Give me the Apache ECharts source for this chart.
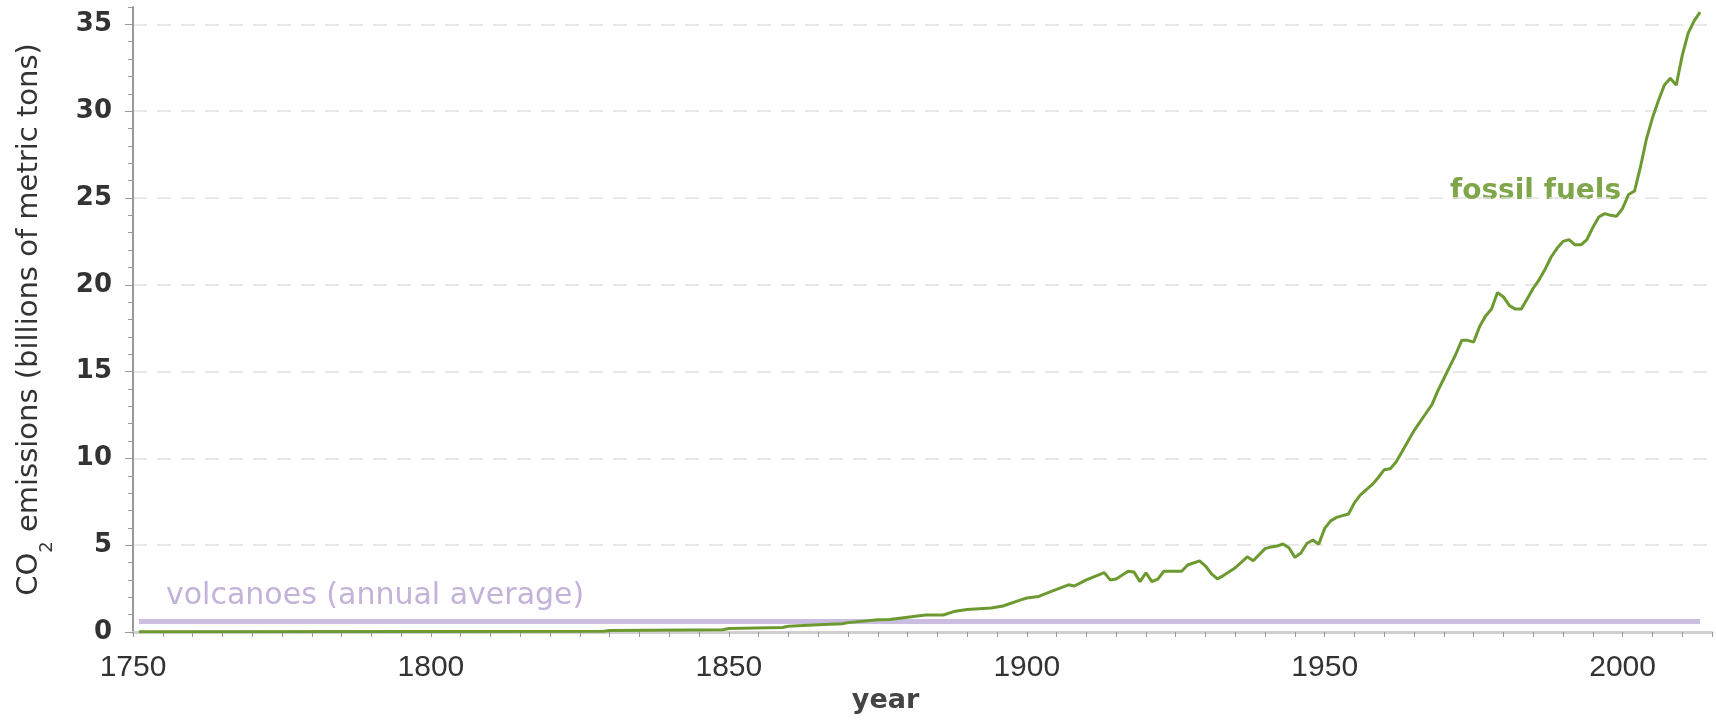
<!DOCTYPE html>
<html><head><meta charset="utf-8">
<script src="https://cdn.jsdelivr.net/npm/echarts@6/dist/echarts.min.js"></script>
<style>html,body{margin:0;padding:0;background:#fff}#c{width:1716px;height:721px}</style>
</head><body><div id="c"></div>
<script>
// fossil fuel CO2 emissions, billions of metric tons
const years = [1751,1800,1829,1830,1849,1850,1859,1860,1865,1869,1870,1875,1877,1880,1883,1886,1888,1890,1894,1896,1899,
1900,1902,1905,1907,1908,1910,1913,1914,1915,1917,1918,1919,1920,1921,1922,1923,1926,1927,1929,1930,1931,1932,1933,1935,1937,1938,
1940,1941,1942,1943,1944,1945,1946,1947,1948,1949,1950,1951,1952,1953,1954,1955,1956,1957,1958,1959,1960,1961,1962,1963,1964,1965,
1966,1967,1968,1969,1970,1971,1972,1973,1974,1975,1976,1977,1978,1979,1980,1981,1982,1983,1984,1985,1986,1987,1988,1989,1990,1991,
1992,1993,1994,1995,1996,1997,1998,1999,2000,2001,2002,2003,2004,2005,2006,2007,2008,2009,2010,2011,2012,2013];
const fossil = [0.01,0.03,0.04,0.09,0.13,0.20,0.26,0.33,0.42,0.48,0.54,0.70,0.72,0.85,0.98,0.98,1.20,1.30,1.38,1.50,1.85,
1.96,2.05,2.45,2.72,2.65,3.00,3.42,3.00,3.05,3.50,3.45,2.90,3.40,2.90,3.05,3.50,3.50,3.86,4.10,3.80,3.35,3.06,3.25,3.70,4.33,4.10,
4.80,4.90,4.95,5.07,4.85,4.30,4.55,5.10,5.30,5.05,5.97,6.40,6.60,6.70,6.80,7.45,7.90,8.20,8.50,8.90,9.35,9.40,9.80,10.40,11.00,11.60,
12.10,12.60,13.10,13.90,14.60,15.30,16.00,16.80,16.80,16.70,17.60,18.20,18.60,19.55,19.30,18.80,18.60,18.60,19.20,19.80,20.30,20.90,21.60,22.10,22.50,22.60,
22.30,22.30,22.60,23.30,23.90,24.10,24.00,23.95,24.40,25.20,25.40,26.80,28.40,29.60,30.60,31.50,31.90,31.50,33.20,34.50,35.20,35.70];
const volcanoYears = [1751, 2013];
const volcanoValue = [0.6, 0.6];
const xTickLabels = [1750,1800,1850,1900,1950,2000];
const yTickLabels = [0,5,10,15,20,25,30,35];

const fossilData = years.map((y,i)=>[y,fossil[i]]);
const volcanoData = volcanoYears.map((y,i)=>[y,volcanoValue[i]]);

const chart = echarts.init(document.getElementById('c'));
chart.setOption({
  animation:false,
  grid:{left:133,right:4,top:7,bottom:89,containLabel:false},
  xAxis:{type:'value',min:1750,max:2015,interval:5,
    name:'year',nameLocation:'middle',nameGap:54,
    nameTextStyle:{fontFamily:'DejaVu Sans',fontWeight:'bold',fontSize:27,color:'#444',padding:[0,74,0,0]},
    axisLine:{show:true,lineStyle:{color:'#d0d0d0',width:3}},
    axisTick:{show:true,length:5,lineStyle:{color:'#999',width:1}},
    axisLabel:{fontFamily:'Liberation Sans',fontSize:30,color:'#333',margin:21,
      formatter:v=>xTickLabels.indexOf(v)>=0?String(v):''},
    splitLine:{show:false}},
  yAxis:[{type:'value',min:0,max:36,interval:5,
    name:'{n|CO}{s|2}{n| emissions (billions of metric tons)}',nameLocation:'middle',nameGap:89,nameRotate:90,
    nameTextStyle:{rich:{n:{fontFamily:'DejaVu Sans',fontSize:29,color:'#333'},
      s:{fontFamily:'DejaVu Sans',fontSize:18,color:'#333',verticalAlign:'bottom',padding:[0,0,-12,0]}}},
    axisLine:{show:true,lineStyle:{color:'#999',width:2}},
    axisTick:{show:true,length:8,lineStyle:{color:'#999'}},
    axisLabel:{fontFamily:'DejaVu Sans',fontWeight:'bold',fontSize:26,color:'#333',margin:21,showMaxLabel:false,
      formatter:v=>yTickLabels.indexOf(v)>=0?String(v):''},
    splitLine:{show:true,showMaxLine:false,lineStyle:{color:'#e2e2e2',type:[14,10],width:1.5}}},
   {type:'value',min:0,max:36,interval:1,position:'left',
    axisLine:{show:false},axisTick:{show:true,length:5,lineStyle:{color:'#999'}},
    axisLabel:{show:false},splitLine:{show:false}}],
  series:[
    {type:'line',data:volcanoData,showSymbol:false,lineStyle:{color:'#cbbde0',width:5},z:2},
    {type:'line',data:fossilData,showSymbol:false,lineStyle:{color:'#6c9a30',width:3},z:3}
  ],
  graphic:[
    {type:'text',left:1450,top:178,style:{text:'fossil fuels',fontFamily:'DejaVu Sans',fontWeight:'bold',fontSize:28,fill:'#80a64c'}},
    {type:'text',left:166,top:581,style:{text:'volcanoes (annual average)',fontFamily:'DejaVu Sans',fontSize:30,fill:'#c3b3d9'}}
  ]
});
</script></body></html>
